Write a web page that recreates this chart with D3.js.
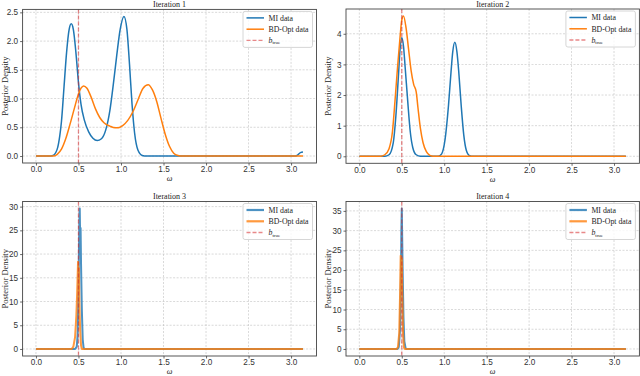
<!DOCTYPE html>
<html>
<head>
<meta charset="utf-8">
<script src="https://cdn.jsdelivr.net/npm/d3@7"></script>
<style>
  body { margin: 0; background: #fff; }
  svg { font-family: "Liberation Serif", "DejaVu Serif", serif; }
  .tick text { font-size: 8.2px; fill: #333; }
  .grid line { stroke: #b8b8b8; stroke-dasharray: 2,1.5; stroke-width: 0.8; opacity: 0.65; }
</style>
</head>
<body>
<script>
// posterior densities, [omega, density]
const mi1 = [[0,0],[0.15,0],[0.2,0.01],[0.25,0.12],[0.28,0.35],[0.3,0.6],[0.33,1.2],[0.36,1.8],[0.39,2.2],[0.415,2.3],[0.44,2.2],[0.47,1.8],[0.5,1.28],[0.53,0.9],[0.57,0.62],[0.62,0.42],[0.67,0.31],[0.72,0.27],[0.77,0.3],[0.82,0.45],[0.87,0.8],[0.91,1.25],[0.95,1.75],[0.99,2.2],[1.035,2.43],[1.07,2.2],[1.1,1.6],[1.13,0.9],[1.16,0.4],[1.2,0.1],[1.25,0.01],[1.3,0],[3.05,0],[3.08,0.02],[3.11,0.06],[3.14,0.07]];
const bd1 = [[0,0],[0.2,0],[0.25,0.03],[0.3,0.12],[0.35,0.3],[0.4,0.55],[0.45,0.82],[0.5,1.08],[0.53,1.18],[0.56,1.22],[0.6,1.18],[0.65,1.02],[0.7,0.82],[0.75,0.67],[0.8,0.58],[0.87,0.52],[0.93,0.49],[0.97,0.49],[1.02,0.53],[1.08,0.62],[1.14,0.77],[1.2,0.98],[1.26,1.18],[1.32,1.24],[1.37,1.15],[1.42,0.95],[1.47,0.66],[1.52,0.38],[1.57,0.17],[1.62,0.05],[1.67,0.01],[1.72,0],[3.14,0]];
const mi2 = [[0,0],[0.3,0],[0.35,0.05],[0.4,0.45],[0.43,1.3],[0.46,2.6],[0.48,3.5],[0.5,3.87],[0.52,3.6],[0.54,2.9],[0.57,1.8],[0.6,0.8],[0.63,0.28],[0.67,0.05],[0.72,0],[0.93,0],[0.97,0.08],[1.01,0.55],[1.05,1.65],[1.08,2.75],[1.1,3.4],[1.125,3.72],[1.15,3.4],[1.17,2.8],[1.2,1.65],[1.23,0.7],[1.26,0.2],[1.3,0.02],[1.34,0],[3.14,0]];
const bd2 = [[0,0],[0.25,0],[0.3,0.05],[0.35,0.25],[0.39,0.8],[0.42,1.8],[0.45,2.9],[0.48,3.9],[0.5,4.45],[0.52,4.58],[0.55,4.2],[0.58,3.5],[0.61,2.8],[0.64,2.35],[0.67,2.1],[0.69,1.6],[0.72,0.9],[0.75,0.45],[0.79,0.15],[0.83,0.03],[0.87,0],[3.14,0]];
const mi3 = [[0,0],[0.46,0],[0.48,0.5],[0.49,3],[0.5,12],[0.505,20],[0.51,26],[0.515,29.6],[0.52,23],[0.525,25.5],[0.53,18],[0.54,8],[0.55,2],[0.56,0.3],[0.57,0],[3.14,0]];
const bd3 = [[0,0],[0.42,0],[0.44,0.5],[0.46,2.5],[0.475,7],[0.485,12],[0.495,18.4],[0.5,15],[0.505,17],[0.51,10],[0.52,4],[0.53,0.8],[0.54,0],[3.14,0]];
const mi4 = [[0,0],[0.45,0],[0.465,0.5],[0.48,5],[0.49,18],[0.495,30],[0.5,35.6],[0.505,28],[0.51,20],[0.52,8],[0.53,2],[0.545,0.2],[0.555,0],[3.14,0]];
const bd4 = [[0,0],[0.44,0],[0.455,0.5],[0.47,4],[0.48,14],[0.487,23.6],[0.493,21],[0.5,23],[0.505,15],[0.515,4],[0.525,0.5],[0.535,0],[3.14,0]];

const titles = ["Iteration 1", "Iteration 2", "Iteration 3", "Iteration 4"];
const xTicks = [0, 0.5, 1, 1.5, 2, 2.5, 3];
const yTicks = [[0, 0.5, 1, 1.5, 2, 2.5], [0, 1, 2, 3, 4], [0, 5, 10, 15, 20, 25, 30], [0, 5, 10, 15, 20, 25, 30, 35]];
const yFormats = [".1f", "d", "d", "d"];
const bTrue = 0.5;
const seriesNames = ["MI data", "BD-Opt data"];

const width = 640, height = 376;
const svg = d3.select("body").append("svg")
  .attr("width", width)
  .attr("height", height);

// axes boxes: [left, right, top, bottom]
const boxes = [[22.6, 316.5, 9.4, 163], [346, 639.4, 9, 163.3], [22.6, 316.5, 201.5, 356], [346, 639.4, 201.5, 356]];
const panels = [[mi1, bd1], [mi2, bd2], [mi3, bd3], [mi4, bd4]];
const blue = "#1f77b4", orange = "#ff7f0e", red = "#d62728";

panels.forEach(([mi, bd], i) => {
  const [l, r, t, b] = boxes[i];
  const late = i >= 2;
  const xScale = d3.scaleLinear().domain([-0.157, 3.299]).range([l, r]);
  const yMax = d3.max(mi.concat(bd), d => d[1]);
  const yScale = d3.scaleLinear().domain([-0.05 * yMax, 1.05 * yMax]).range([b, t]);

  const g = svg.append("g");

  // grid
  g.append("g").attr("class", "grid")
    .selectAll("line.v").data(xTicks).join("line")
    .attr("x1", d => xScale(d)).attr("x2", d => xScale(d))
    .attr("y1", t).attr("y2", b);
  g.append("g").attr("class", "grid")
    .selectAll("line.h").data(yTicks[i]).join("line")
    .attr("x1", l).attr("x2", r)
    .attr("y1", d => yScale(d)).attr("y2", d => yScale(d));

  const line = d3.line()
    .x(d => xScale(d[0]))
    .y(d => yScale(d[1]))
    .curve(late ? d3.curveLinear : d3.curveMonotoneX);

  [mi, bd].forEach((s, k) => {
    g.append("path")
      .datum(s)
      .attr("d", line)
      .attr("fill", "none")
      .attr("stroke", k === 0 ? blue : orange)
      .attr("stroke-width", late ? 2 : 1.5)
      .attr("stroke-opacity", late ? 0.8 : 1)
      .attr("stroke-linejoin", "round");
  });

  g.append("line")
    .attr("x1", xScale(bTrue)).attr("x2", xScale(bTrue))
    .attr("y1", t).attr("y2", b)
    .attr("stroke", red)
    .attr("stroke-opacity", 0.55)
    .attr("stroke-width", 1.3)
    .attr("stroke-dasharray", "4,2");

  // spines
  g.append("rect")
    .attr("x", l).attr("y", t)
    .attr("width", r - l).attr("height", b - t)
    .attr("fill", "none")
    .attr("stroke", "#444")
    .attr("stroke-width", 0.9);

  // axes
  const xa = g.append("g")
    .attr("transform", `translate(0,${b})`)
    .call(d3.axisBottom(xScale).tickValues(xTicks).tickFormat(d3.format(".1f")).tickSize(2.5).tickPadding(1));
  const ya = g.append("g")
    .attr("transform", `translate(${l},0)`)
    .call(d3.axisLeft(yScale).tickValues(yTicks[i]).tickFormat(d3.format(yFormats[i])).tickSize(2.5).tickPadding(2));
  [xa, ya].forEach(a => {
    a.select(".domain").remove();
    a.selectAll(".tick line").attr("stroke", "#444").attr("stroke-width", 0.8);
  });

  // title and labels
  g.append("text")
    .attr("x", (l + r) / 2).attr("y", t - 2.2)
    .attr("text-anchor", "middle")
    .attr("font-size", 8)
    .attr("fill", "#222")
    .text(titles[i]);

  g.append("text")
    .attr("x", (l + r) / 2).attr("y", b + 18.3)
    .attr("text-anchor", "middle")
    .attr("font-size", 8)
    .attr("font-style", "italic")
    .attr("fill", "#222")
    .text("ω");

  g.append("text")
    .attr("transform", `translate(${l - 15},${(t + b) / 2}) rotate(-90)`)
    .attr("text-anchor", "middle")
    .attr("font-size", 8.5)
    .attr("fill", "#222")
    .text("Posterior Density");

  // legend
  const legend = g.append("g")
    .attr("transform", `translate(${r - 73.5},${t + 2})`);
  legend.append("rect")
    .attr("width", 69.5).attr("height", 36)
    .attr("rx", 2)
    .attr("fill", "#fff")
    .attr("fill-opacity", 0.8)
    .attr("stroke", "#ccc")
    .attr("stroke-width", 0.8);

  seriesNames.forEach((name, k) => {
    legend.append("line")
      .attr("x1", 3.5).attr("x2", 21)
      .attr("y1", 6.5 + k * 11.3).attr("y2", 6.5 + k * 11.3)
      .attr("stroke", k === 0 ? blue : orange)
      .attr("stroke-width", late ? 2.2 : 1.5)
      .attr("stroke-opacity", late ? 0.8 : 1);
    legend.append("text")
      .attr("x", 25.5).attr("y", 9.2 + k * 11.3)
      .attr("font-size", 7.8)
      .attr("fill", "#222")
      .text(name);
  });

  legend.append("line")
    .attr("x1", 3.5).attr("x2", 21)
    .attr("y1", 29).attr("y2", 29)
    .attr("stroke", red)
    .attr("stroke-opacity", 0.55)
    .attr("stroke-width", 1.3)
    .attr("stroke-dasharray", "4,2");
  const bt = legend.append("text")
    .attr("x", 25.5).attr("y", 31.5)
    .attr("font-size", 7.8)
    .attr("fill", "#222");
  bt.append("tspan").attr("font-style", "italic").text("b");
  bt.append("tspan").attr("font-size", 5).attr("dy", 1.5).text("true");
});
</script>
</body>
</html>
